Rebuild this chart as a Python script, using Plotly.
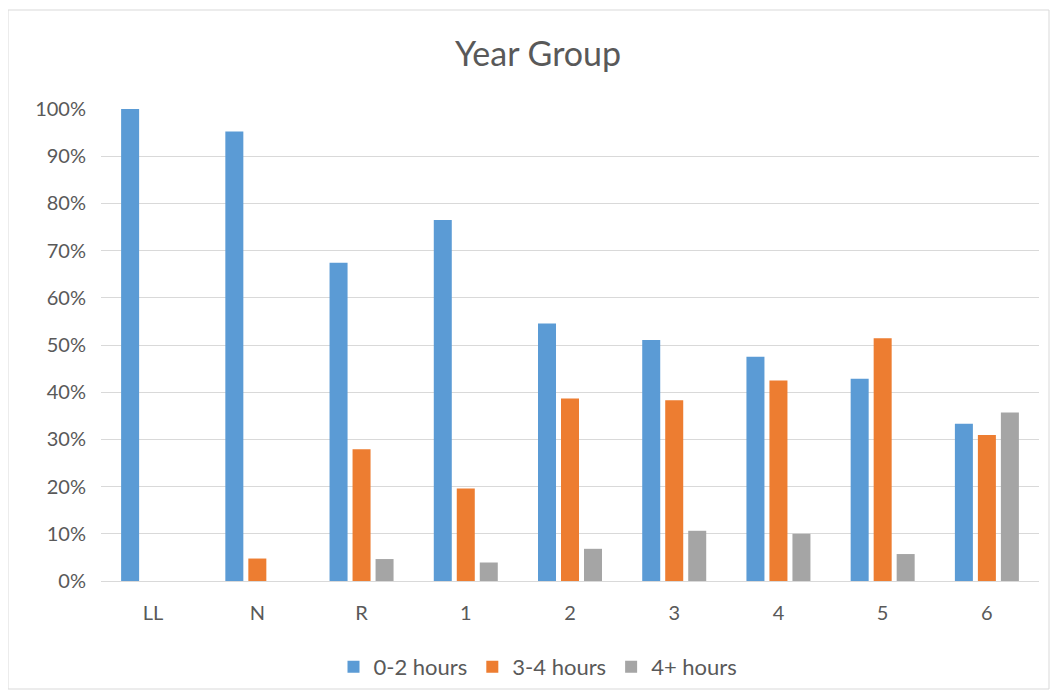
import plotly.graph_objects as go

categories = ["LL", "N", "R", "1", "2", "3", "4", "5", "6"]
hours_0_2 = [1.0, 0.9524, 0.6744, 0.7647, 0.5455, 0.5106, 0.475, 0.4286, 0.3333]
hours_3_4 = [0.0, 0.0476, 0.2791, 0.1961, 0.3864, 0.3830, 0.425, 0.5143, 0.3095]
hours_4_plus = [0.0, 0.0, 0.0465, 0.0392, 0.0682, 0.1064, 0.10, 0.0571, 0.3571]
series_names = ["0-2 hours", "3-4 hours", "4+ hours"]
colors = ["#5B9BD5", "#ED7D31", "#A5A5A5"]

FONT = "Lato"
TXT = "#595959"

fig = go.Figure()
for name, vals, col in zip(series_names, [hours_0_2, hours_3_4, hours_4_plus], colors):
    fig.add_trace(go.Bar(name=name, x=categories, y=vals, marker=dict(color=col, line=dict(width=0))))

# page body has an 8px margin; work in figure pixels = screen pixels - 8
OFF = 8
W, H = 1058 - 2 * OFF, 698 - 2 * OFF
ml = 101 - OFF
mt = 109 - OFF
pr = 1039 - OFF
pb = 581 - OFF
mr = W - pr
mb = H - pb
pw, ph = W - ml - mr, H - mt - mb

def px_x(p):
    return (p - OFF - ml) / pw

def px_y(p):
    return (H - mb - (p - OFF)) / ph

fig.update_layout(
    width=W, height=H,
    margin=dict(l=ml, r=mr, t=mt, b=mb, autoexpand=False),
    paper_bgcolor="white", plot_bgcolor="white",
    barmode="group", bargap=0.338, bargroupgap=0.217,
    font=dict(family=FONT, color=TXT, size=20),
    title=dict(text="Year Group", x=(538 - OFF) / W, xanchor="center", y=1 - (54 - OFF) / H,
               yanchor="middle", font=dict(family=FONT, size=34, color=TXT)),
    xaxis=dict(showgrid=False, showline=False, ticks="", tickfont=dict(size=20, color=TXT),
               ticklabelstandoff=18),
    yaxis=dict(range=[0, 1.0], dtick=0.1, tickformat=".0%", showgrid=True, gridcolor="#D9D9D9",
               gridwidth=1, zeroline=True, zerolinecolor="#D9D9D9", zerolinewidth=1,
               showline=False, ticks="", tickfont=dict(size=20, color=TXT), ticklabelstandoff=14),
    legend=dict(orientation="h", x=px_x(538), xanchor="center",
                yref="container", y=1 - (667 - OFF) / H, yanchor="middle",
                bgcolor="rgba(0,0,0,0)",
                font=dict(size=22, color=TXT), itemwidth=30, traceorder="normal"),
    shapes=[dict(type="rect", xref="paper", yref="paper",
                 x0=px_x(OFF), x1=px_x(W + OFF - 1), y0=px_y(H + OFF - 1), y1=px_y(10),
                 line=dict(color="#D9D9D9", width=1), fillcolor="rgba(0,0,0,0)", layer="below")],
)

fig.write_html("out.html")
